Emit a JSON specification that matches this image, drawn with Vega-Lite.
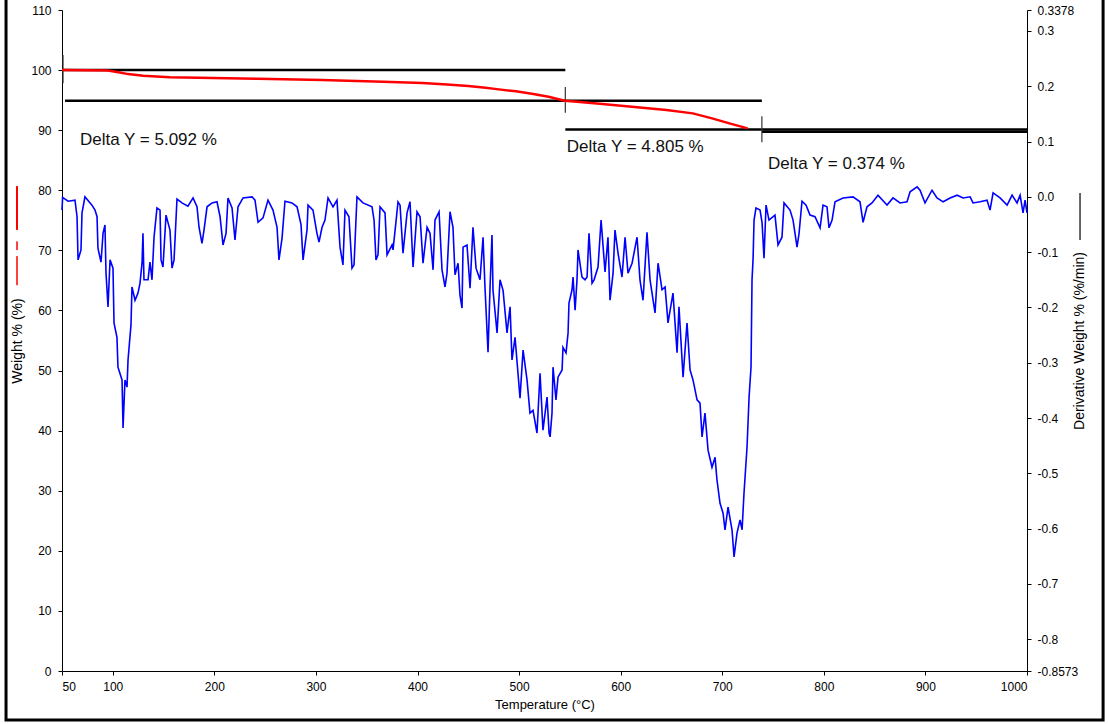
{
  "$schema": "https://vega.github.io/schema/vega-lite/v6.json",
  "width": 965,
  "height": 661,
  "autosize": {"type": "none"},
  "padding": {"left": 62, "top": 10, "right": 82, "bottom": 53},
  "background": "white",
  "config": {
    "font": "Liberation Sans",
    "view": {"stroke": null},
    "axis": {
      "grid": false,
      "domainColor": "#000",
      "tickColor": "#000",
      "labelColor": "#000",
      "titleColor": "#000",
      "labelFont": "Liberation Sans",
      "titleFont": "Liberation Sans",
      "labelFontSize": 12,
      "titleFontSize": 13,
      "titleFontWeight": "normal",
      "tickSize": 4,
      "domainWidth": 1,
      "tickWidth": 1
    }
  },
  "datasets": {
    "frame": [
      {"ta": -5.1, "tb": 1074.9, "wa": 112.5, "wb": -8.15}
    ],
    "segs": [
      {"t1": 50, "t2": 545.5, "w": 100.0},
      {"t1": 53, "t2": 545.5, "w": 94.908},
      {"t1": 545.5, "t2": 739, "w": 94.908},
      {"t1": 545.5, "t2": 739, "w": 90.103},
      {"t1": 739, "t2": 1000, "w": 90.103},
      {"t1": 739, "t2": 1000, "w": 89.729}
    ],
    "ticks": [
      {"t": 51, "w1": 102.5, "w2": 97.8},
      {"t": 545.5, "w1": 97.2, "w2": 92.9},
      {"t": 739, "w1": 92.3, "w2": 88.0}
    ],
    "labels": [
      {"t": 67.7, "w": 88.35, "label": "Delta Y = 5.092 %"},
      {"t": 547, "w": 87.2, "label": "Delta Y = 4.805 %"},
      {"t": 745, "w": 84.4, "label": "Delta Y = 0.374 %"}
    ],
    "weight": [
      {"t": 50, "w": 100.0}, {"t": 95, "w": 99.92}, {"t": 107, "w": 99.6}, {"t": 115, "w": 99.33},
      {"t": 130, "w": 99.05}, {"t": 156, "w": 98.79}, {"t": 243, "w": 98.55}, {"t": 306, "w": 98.34},
      {"t": 366, "w": 98.05}, {"t": 405, "w": 97.84}, {"t": 429, "w": 97.62}, {"t": 450, "w": 97.34},
      {"t": 467, "w": 97.05}, {"t": 480, "w": 96.79}, {"t": 497, "w": 96.46}, {"t": 514, "w": 96.01},
      {"t": 529, "w": 95.56}, {"t": 545, "w": 94.91}, {"t": 557, "w": 94.73}, {"t": 582, "w": 94.34},
      {"t": 611, "w": 93.89}, {"t": 645, "w": 93.34}, {"t": 671, "w": 92.8}, {"t": 690, "w": 91.96},
      {"t": 707, "w": 91.13}, {"t": 725, "w": 90.3}
    ],
    "legendLeft": [
      {"t": 5.7, "w1": 80.7, "w2": 73.4, "kind": "solid"},
      {"t": 5.7, "w1": 71.5, "w2": 70.05, "kind": "dash"},
      {"t": 5.7, "w1": 69.05, "w2": 64.2, "kind": "dash"}
    ],
    "legendRight": [
      {"t": 1052.2, "d1": 0.0069, "d2": -0.078}
    ],
    "deriv": [
      {"t": 50.0, "d": -0.024}, {"t": 50.6, "d": -0.001}, {"t": 56, "d": -0.008}, {"t": 62.8, "d": -0.006},
      {"t": 64.8, "d": -0.036}, {"t": 65.8, "d": -0.114}, {"t": 68.7, "d": -0.096}, {"t": 69.7, "d": -0.029},
      {"t": 72.6, "d": -0.0}, {"t": 79.5, "d": -0.015}, {"t": 82.5, "d": -0.024}, {"t": 84.5, "d": -0.036},
      {"t": 85.4, "d": -0.093}, {"t": 88.4, "d": -0.118}, {"t": 90.4, "d": -0.066}, {"t": 92.3, "d": -0.051},
      {"t": 93.3, "d": -0.137}, {"t": 95.3, "d": -0.199}, {"t": 97.3, "d": -0.114}, {"t": 100.2, "d": -0.129},
      {"t": 101.2, "d": -0.228}, {"t": 104.1, "d": -0.254}, {"t": 105.1, "d": -0.308}, {"t": 109.1, "d": -0.331},
      {"t": 110.1, "d": -0.418}, {"t": 112.0, "d": -0.331}, {"t": 114.0, "d": -0.344}, {"t": 115.0, "d": -0.295},
      {"t": 117.9, "d": -0.232}, {"t": 118.9, "d": -0.163}, {"t": 121.9, "d": -0.187}, {"t": 124.8, "d": -0.174},
      {"t": 126.8, "d": -0.156}, {"t": 128.8, "d": -0.12}, {"t": 129.7, "d": -0.066}, {"t": 130.7, "d": -0.15},
      {"t": 134.7, "d": -0.15}, {"t": 136.6, "d": -0.118}, {"t": 138.6, "d": -0.15}, {"t": 140.6, "d": -0.073},
      {"t": 143.5, "d": -0.02}, {"t": 146.5, "d": -0.024}, {"t": 147.5, "d": -0.114}, {"t": 149.4, "d": -0.127},
      {"t": 152.4, "d": -0.033}, {"t": 156.3, "d": -0.06}, {"t": 158.3, "d": -0.129}, {"t": 160.3, "d": -0.114},
      {"t": 163.2, "d": -0.004}, {"t": 168.1, "d": -0.011}, {"t": 174.0, "d": -0.017}, {"t": 179.0, "d": -0.002},
      {"t": 182.9, "d": -0.018}, {"t": 184.9, "d": -0.055}, {"t": 187.8, "d": -0.084}, {"t": 189.8, "d": -0.06},
      {"t": 192.8, "d": -0.018}, {"t": 197.7, "d": -0.011}, {"t": 202.6, "d": -0.009}, {"t": 205.6, "d": -0.036},
      {"t": 208.5, "d": -0.087}, {"t": 211.5, "d": -0.066}, {"t": 213.4, "d": -0.002}, {"t": 217.4, "d": -0.02},
      {"t": 220.3, "d": -0.078}, {"t": 223.3, "d": -0.018}, {"t": 228.2, "d": -0.002}, {"t": 237.1, "d": -0.0},
      {"t": 240.0, "d": -0.006}, {"t": 243.0, "d": -0.046}, {"t": 247.9, "d": -0.038}, {"t": 252.8, "d": -0.006},
      {"t": 257.7, "d": -0.024}, {"t": 261.7, "d": -0.055}, {"t": 263.6, "d": -0.114}, {"t": 266.6, "d": -0.075},
      {"t": 269.5, "d": -0.008}, {"t": 276.4, "d": -0.011}, {"t": 281.4, "d": -0.018}, {"t": 285.3, "d": -0.05},
      {"t": 287.3, "d": -0.114}, {"t": 291.2, "d": -0.06}, {"t": 292.2, "d": -0.015}, {"t": 297.1, "d": -0.024},
      {"t": 301.0, "d": -0.066}, {"t": 303.0, "d": -0.082}, {"t": 306.0, "d": -0.055}, {"t": 308.9, "d": -0.042},
      {"t": 311.9, "d": -0.002}, {"t": 316.8, "d": -0.018}, {"t": 320.7, "d": -0.006}, {"t": 323.7, "d": -0.091},
      {"t": 326.6, "d": -0.123}, {"t": 328.6, "d": -0.024}, {"t": 332.5, "d": -0.036}, {"t": 335.5, "d": -0.129},
      {"t": 337.5, "d": -0.123}, {"t": 340.4, "d": -0.0}, {"t": 346.3, "d": -0.011}, {"t": 355.2, "d": -0.018},
      {"t": 357.2, "d": -0.042}, {"t": 359.1, "d": -0.114}, {"t": 361.1, "d": -0.105}, {"t": 363.1, "d": -0.018},
      {"t": 368.0, "d": -0.029}, {"t": 370.0, "d": -0.105}, {"t": 374.9, "d": -0.087}, {"t": 375.9, "d": -0.096},
      {"t": 380.8, "d": -0.009}, {"t": 382.8, "d": -0.015}, {"t": 385.7, "d": -0.102}, {"t": 389.7, "d": -0.029},
      {"t": 392.6, "d": -0.009}, {"t": 395.6, "d": -0.127}, {"t": 399.5, "d": -0.027}, {"t": 402.5, "d": -0.036},
      {"t": 405.4, "d": -0.12}, {"t": 409.4, "d": -0.055}, {"t": 412.3, "d": -0.066}, {"t": 415.3, "d": -0.132},
      {"t": 417.2, "d": -0.042}, {"t": 421.2, "d": -0.027}, {"t": 424.1, "d": -0.132}, {"t": 427.1, "d": -0.163},
      {"t": 429.0, "d": -0.138}, {"t": 432.0, "d": -0.027}, {"t": 434.9, "d": -0.055}, {"t": 436.9, "d": -0.141},
      {"t": 439.9, "d": -0.12}, {"t": 441.8, "d": -0.178}, {"t": 443.8, "d": -0.201}, {"t": 444.8, "d": -0.091},
      {"t": 448.7, "d": -0.087}, {"t": 451.7, "d": -0.165}, {"t": 454.6, "d": -0.055}, {"t": 457.6, "d": -0.129},
      {"t": 461.5, "d": -0.15}, {"t": 464.5, "d": -0.073}, {"t": 466.4, "d": -0.163}, {"t": 469.4, "d": -0.281},
      {"t": 471.4, "d": -0.163}, {"t": 473.3, "d": -0.069}, {"t": 474.3, "d": -0.169}, {"t": 478.3, "d": -0.246},
      {"t": 481.2, "d": -0.15}, {"t": 484.2, "d": -0.169}, {"t": 488.1, "d": -0.246}, {"t": 491.1, "d": -0.199},
      {"t": 493.0, "d": -0.295}, {"t": 496.0, "d": -0.254}, {"t": 498.9, "d": -0.319}, {"t": 500.9, "d": -0.364},
      {"t": 503.9, "d": -0.277}, {"t": 507.8, "d": -0.331}, {"t": 510.7, "d": -0.391}, {"t": 513.7, "d": -0.386},
      {"t": 517.6, "d": -0.427}, {"t": 520.6, "d": -0.319}, {"t": 523.5, "d": -0.422}, {"t": 527.5, "d": -0.362},
      {"t": 529.5, "d": -0.427}, {"t": 530.5, "d": -0.434}, {"t": 532.4, "d": -0.391}, {"t": 533.4, "d": -0.308},
      {"t": 536.3, "d": -0.367}, {"t": 538.3, "d": -0.326}, {"t": 542.3, "d": -0.313}, {"t": 543.2, "d": -0.272},
      {"t": 546.2, "d": -0.282}, {"t": 548.2, "d": -0.246}, {"t": 549.1, "d": -0.192}, {"t": 552.1, "d": -0.168},
      {"t": 553.1, "d": -0.145}, {"t": 555.1, "d": -0.205}, {"t": 557.0, "d": -0.15}, {"t": 558.0, "d": -0.096},
      {"t": 561.9, "d": -0.145}, {"t": 564.9, "d": -0.15}, {"t": 566.9, "d": -0.145}, {"t": 568.8, "d": -0.066},
      {"t": 571.8, "d": -0.156}, {"t": 573.8, "d": -0.15}, {"t": 577.7, "d": -0.127}, {"t": 580.7, "d": -0.042},
      {"t": 584.6, "d": -0.136}, {"t": 587.5, "d": -0.073}, {"t": 589.5, "d": -0.187}, {"t": 592.5, "d": -0.138},
      {"t": 594.4, "d": -0.06}, {"t": 597.4, "d": -0.102}, {"t": 601.3, "d": -0.145}, {"t": 604.3, "d": -0.073},
      {"t": 607.2, "d": -0.138}, {"t": 611.2, "d": -0.12}, {"t": 616.1, "d": -0.073}, {"t": 619.0, "d": -0.15},
      {"t": 622.0, "d": -0.187}, {"t": 625.9, "d": -0.064}, {"t": 628.9, "d": -0.15}, {"t": 633.8, "d": -0.21},
      {"t": 636.8, "d": -0.12}, {"t": 640.7, "d": -0.168}, {"t": 643.7, "d": -0.163}, {"t": 646.6, "d": -0.228},
      {"t": 651.5, "d": -0.174}, {"t": 655.5, "d": -0.282}, {"t": 657.4, "d": -0.199}, {"t": 661.4, "d": -0.326},
      {"t": 665.3, "d": -0.228}, {"t": 668.3, "d": -0.313}, {"t": 671.2, "d": -0.331}, {"t": 675.2, "d": -0.367},
      {"t": 678.1, "d": -0.373}, {"t": 680.1, "d": -0.434}, {"t": 683.0, "d": -0.391}, {"t": 686.0, "d": -0.458},
      {"t": 689.9, "d": -0.489}, {"t": 692.9, "d": -0.471}, {"t": 694.8, "d": -0.512}, {"t": 697.8, "d": -0.554},
      {"t": 700.8, "d": -0.572}, {"t": 702.7, "d": -0.602}, {"t": 705.7, "d": -0.561}, {"t": 709.6, "d": -0.602},
      {"t": 711.6, "d": -0.651}, {"t": 714.5, "d": -0.608}, {"t": 717.5, "d": -0.584}, {"t": 719.5, "d": -0.602},
      {"t": 721.4, "d": -0.536}, {"t": 724.4, "d": -0.452}, {"t": 726.4, "d": -0.362}, {"t": 728.3, "d": -0.308},
      {"t": 729.3, "d": -0.15}, {"t": 730.3, "d": -0.114}, {"t": 731.3, "d": -0.042}, {"t": 733.2, "d": -0.02},
      {"t": 737.2, "d": -0.024}, {"t": 739.2, "d": -0.047}, {"t": 741.1, "d": -0.111}, {"t": 743.1, "d": -0.015},
      {"t": 746.0, "d": -0.042}, {"t": 751.9, "d": -0.033}, {"t": 754.9, "d": -0.087}, {"t": 758.8, "d": -0.073},
      {"t": 760.8, "d": -0.011}, {"t": 766.7, "d": -0.024}, {"t": 769.7, "d": -0.042}, {"t": 773.6, "d": -0.091},
      {"t": 775.6, "d": -0.066}, {"t": 778.5, "d": -0.008}, {"t": 782.5, "d": -0.015}, {"t": 786.4, "d": -0.033},
      {"t": 791.3, "d": -0.036}, {"t": 796.3, "d": -0.056}, {"t": 799.2, "d": -0.015}, {"t": 803.1, "d": -0.018},
      {"t": 805.1, "d": -0.056}, {"t": 808.1, "d": -0.042}, {"t": 811.0, "d": -0.009}, {"t": 818.9, "d": -0.002},
      {"t": 828.7, "d": -0.0}, {"t": 835.6, "d": -0.009}, {"t": 838.6, "d": -0.046}, {"t": 842.5, "d": -0.018},
      {"t": 847.4, "d": -0.011}, {"t": 853.3, "d": 0.003}, {"t": 862.2, "d": -0.015}, {"t": 868.1, "d": -0.002},
      {"t": 875.0, "d": -0.011}, {"t": 881.9, "d": -0.009}, {"t": 884.9, "d": 0.009}, {"t": 891.8, "d": 0.018},
      {"t": 894.7, "d": 0.012}, {"t": 899.6, "d": -0.011}, {"t": 906.5, "d": 0.012}, {"t": 911.4, "d": -0.002},
      {"t": 917.4, "d": -0.009}, {"t": 924.3, "d": -0.002}, {"t": 931.2, "d": 0.003}, {"t": 937.1, "d": -0.002},
      {"t": 944.0, "d": -0.0}, {"t": 946.9, "d": -0.011}, {"t": 953.8, "d": -0.009}, {"t": 960.7, "d": -0.006},
      {"t": 963.6, "d": -0.024}, {"t": 966.6, "d": 0.007}, {"t": 973.5, "d": -0.002}, {"t": 980.4, "d": -0.015},
      {"t": 985.3, "d": 0.003}, {"t": 990.2, "d": -0.011}, {"t": 993.2, "d": 0.003}, {"t": 996.1, "d": -0.029},
      {"t": 998.1, "d": -0.006}, {"t": 1000, "d": -0.029}
    ]
  },
  "layer": [
    {
      "layer": [
        {
          "data": {"name": "segs"},
          "mark": {"type": "rule", "color": "#000", "strokeWidth": 2.5},
          "encoding": {
            "x": {"field": "t1", "type": "quantitative", "scale": {"domain": [50, 1000], "nice": false, "zero": false},
                  "axis": {"values": [50, 100, 200, 300, 400, 500, 600, 700, 800, 900, 1000], "format": "d", "labelPadding": 6, "titlePadding": 6}, "title": "Temperature (°C)"},
            "x2": {"field": "t2"},
            "y": {"field": "w", "type": "quantitative", "scale": {"domain": [0, 110], "nice": false, "zero": false},
                  "axis": {"values": [0, 10, 20, 30, 40, 50, 60, 70, 80, 90, 100, 110], "labelPadding": 7, "titlePadding": 6, "titleFontSize": 14}, "title": "Weight % (%)"}
          }
        },
        {
          "data": {"name": "frame"},
          "mark": {"type": "rect", "fill": null, "stroke": "#000", "strokeWidth": 3, "clip": false},
          "encoding": {
            "x": {"field": "ta", "type": "quantitative", "title": "Temperature (°C)"},
            "x2": {"field": "tb"},
            "y": {"field": "wa", "type": "quantitative", "title": "Weight % (%)"},
            "y2": {"field": "wb"}
          }
        },
        {
          "data": {"name": "ticks"},
          "mark": {"type": "rule", "color": "#333", "strokeWidth": 1.2},
          "encoding": {
            "x": {"field": "t", "type": "quantitative", "title": "Temperature (°C)"},
            "y": {"field": "w1", "type": "quantitative", "title": "Weight % (%)"},
            "y2": {"field": "w2"}
          }
        },
        {
          "data": {"name": "weight"},
          "mark": {"type": "line", "color": "#FF0000", "strokeWidth": 2.5},
          "encoding": {
            "x": {"field": "t", "type": "quantitative", "title": "Temperature (°C)"},
            "y": {"field": "w", "type": "quantitative", "title": "Weight % (%)"}
          }
        },
        {
          "data": {"name": "labels"},
          "mark": {"type": "text", "align": "left", "baseline": "middle", "fontSize": 17, "font": "Liberation Sans", "color": "#111"},
          "encoding": {
            "x": {"field": "t", "type": "quantitative", "title": "Temperature (°C)"},
            "y": {"field": "w", "type": "quantitative", "title": "Weight % (%)"},
            "text": {"field": "label"}
          }
        },
        {
          "data": {"name": "legendLeft"},
          "mark": {"type": "rule", "color": "#FF0000", "strokeWidth": 2, "clip": false},
          "encoding": {
            "x": {"field": "t", "type": "quantitative", "title": "Temperature (°C)"},
            "y": {"field": "w1", "type": "quantitative", "title": "Weight % (%)"},
            "y2": {"field": "w2"},
            "opacity": {"field": "kind", "type": "nominal", "scale": {"domain": ["solid", "dash"], "range": [1, 0.75]}, "legend": null}
          }
        }
      ]
    },
    {
      "layer": [
        {
          "data": {"name": "deriv"},
          "mark": {"type": "line", "color": "#0000FF", "strokeWidth": 1.6},
          "encoding": {
            "x": {"field": "t", "type": "quantitative", "title": "Temperature (°C)"},
            "y": {"field": "d", "type": "quantitative", "scale": {"domain": [-0.8573, 0.3378], "nice": false, "zero": false},
                  "axis": {"orient": "right", "values": [0.3378, 0.3, 0.2, 0.1, 0, -0.1, -0.2, -0.3, -0.4, -0.5, -0.6, -0.7, -0.8, -0.8573],
                           "labelExpr": "replace(datum.value == 0.3378 || datum.value == -0.8573 ? format(datum.value, '.4f') : format(datum.value, '.1f'), '\u2212', '-')",
                           "labelPadding": 6, "titlePadding": 9, "titleAngle": 270, "titleFontSize": 14},
                  "title": "Derivative Weight % (%/min)"}
          }
        },
        {
          "data": {"name": "legendRight"},
          "mark": {"type": "rule", "color": "#000", "strokeWidth": 1.2, "clip": false},
          "encoding": {
            "x": {"field": "t", "type": "quantitative", "title": "Temperature (°C)"},
            "y": {"field": "d1", "type": "quantitative", "title": "Derivative Weight % (%/min)"},
            "y2": {"field": "d2"}
          }
        }
      ]
    }
  ],
  "resolve": {"scale": {"y": "independent"}}
}
